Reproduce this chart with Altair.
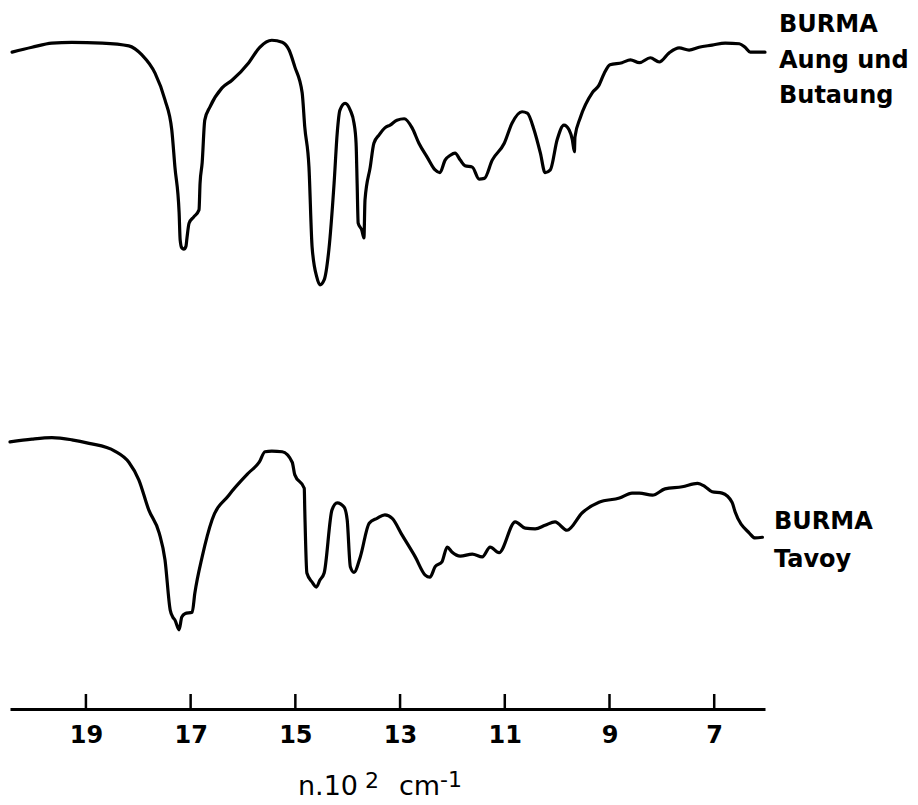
import altair as alt
import pandas as pd

# Upper spectrum: BURMA Aung und Butaung  (wavenumber n.10^2 cm^-1, relative transmittance)
top_w = [20.41, 20.03, 19.65, 19.27, 18.69, 18.18, 17.93, 17.68, 17.49, 17.36,
         17.30, 17.22, 17.20, 17.17, 17.13, 17.09, 17.07, 17.03, 16.94, 16.84,
         16.82, 16.78, 16.73, 16.63, 16.40, 16.21, 15.89, 15.68, 15.45, 15.25,
         15.12, 15.01, 14.87, 14.82, 14.74, 14.68, 14.59, 14.53, 14.45, 14.36,
         14.26, 14.20, 14.15, 14.05, 13.95, 13.88, 13.84, 13.82, 13.80, 13.73,
         13.69, 13.67, 13.57, 13.50, 13.40, 13.29, 13.19, 13.06, 12.92, 12.77,
         12.64, 12.48, 12.33, 12.24, 12.14, 12.04, 11.95, 11.85, 11.76, 11.62,
         11.49, 11.39, 11.24, 11.01, 10.86, 10.67, 10.57, 10.44, 10.32, 10.23,
         10.13, 10.00, 9.87, 9.77, 9.71, 9.67, 9.66, 9.56, 9.33, 9.20,
         9.10, 8.99, 8.76, 8.60, 8.43, 8.22, 8.05, 7.86, 7.67, 7.48,
         7.29, 7.04, 6.79, 6.52, 6.41, 6.31, 6.18, 6.03]
top_t = [93.7, 94.4, 95.0, 95.1, 95.0, 94.6, 93.3, 90.7, 86.9, 82.6,
         77.3, 70.8, 66.9, 65.8, 65.6, 66.0, 67.2, 69.3, 70.2, 71.2,
         75.0, 77.9, 84.0, 85.9, 88.6, 89.7, 92.2, 94.4, 95.4, 95.1,
         94.0, 91.6, 87.9, 83.0, 77.3, 65.9, 61.6, 60.5, 61.2, 65.5,
         75.0, 82.2, 85.4, 86.4, 85.4, 83.6, 80.7, 75.0, 69.3, 68.3,
         67.2, 72.6, 77.3, 80.7, 81.9, 82.9, 83.3, 84.0, 84.2, 82.9,
         80.7, 78.7, 76.9, 76.5, 78.3, 79.0, 79.3, 78.3, 77.5, 77.3,
         75.6, 75.7, 78.3, 80.7, 83.6, 85.2, 85.0, 82.6, 79.3, 76.5,
         76.9, 81.2, 83.3, 82.6, 81.2, 79.5, 81.6, 84.3, 87.9, 89.0,
         90.7, 91.9, 92.2, 92.6, 92.2, 92.9, 92.3, 93.6, 94.3, 94.0,
         94.4, 94.7, 95.0, 94.9, 94.4, 93.7, 93.7, 93.7]

# Lower spectrum: BURMA Tavoy
bot_w = [20.45, 20.03, 19.65, 19.27, 18.94, 18.45, 18.18, 17.99, 17.80, 17.60,
         17.49, 17.39, 17.34, 17.30, 17.22, 17.17, 17.11, 16.97, 16.92, 16.78,
         16.59, 16.27, 15.89, 15.69, 15.58, 15.45, 15.25, 15.06, 15.01, 14.83,
         14.82, 14.78, 14.68, 14.60, 14.53, 14.45, 14.30, 14.20, 14.07, 14.01,
         13.95, 13.88, 13.76, 13.59, 13.44, 13.29, 13.15, 12.96, 12.71, 12.52,
         12.43, 12.33, 12.20, 12.10, 12.01, 11.85, 11.62, 11.43, 11.28, 11.11,
         10.80, 10.61, 10.42, 10.23, 10.04, 9.81, 9.52, 9.20, 8.81, 8.57,
         8.43, 8.18, 7.94, 7.61, 7.32, 7.17, 7.04, 6.85, 6.66, 6.60,
         6.33, 6.22, 6.08]
bot_t = [38.1, 38.5, 38.7, 38.4, 37.9, 36.8, 35.2, 32.7, 28.4, 25.1,
         21.3, 14.1, 13.1, 12.7, 11.3, 13.1, 13.6, 13.8, 16.5, 21.7,
         27.0, 30.5, 33.7, 35.2, 36.7, 36.8, 36.7, 35.2, 33.4, 31.5,
         28.4, 19.4, 18.1, 17.4, 18.4, 19.4, 28.4, 29.4, 28.8, 27.0,
         20.3, 19.5, 21.7, 26.5, 27.2, 27.7, 27.2, 24.8, 21.7, 19.1,
         18.8, 20.3, 21.0, 23.1, 22.4, 21.8, 22.1, 21.7, 23.1, 22.3,
         26.7, 25.8, 25.7, 26.2, 26.7, 25.5, 28.0, 29.5, 30.1, 30.8,
         30.8, 30.5, 31.4, 31.7, 32.2, 31.7, 31.0, 30.8, 29.5, 28.1,
         25.1, 24.4, 24.5]

tick_values = [19, 17, 15, 13, 11, 9, 7]

rows = []
for i, (w, t) in enumerate(zip(top_w, top_t)):
    rows.append({"w": w, "T": t, "series": "Aung und Butaung", "i": i})
for i, (w, t) in enumerate(zip(bot_w, bot_t)):
    rows.append({"w": w, "T": t, "series": "Tavoy", "i": i})
df = pd.DataFrame(rows)

W, H = 755, 701
xscale = alt.Scale(domain=[6.03, 20.45], reverse=True, nice=False, zero=False)
yscale = alt.Scale(domain=[0, 100], nice=False, zero=False)

lines = alt.Chart(df).mark_line(color="black", strokeWidth=3.2, strokeCap="round",
                                strokeJoin="round", interpolate="monotone").encode(
    x=alt.X("w:Q", scale=xscale,
            axis=alt.Axis(values=tick_values, format="d", ticks=False, grid=False,
                          labelFont="DejaVu Sans", labelFontWeight="bold",
                          labelFontSize=24, labelPadding=14, labelColor="black",
                          domainWidth=3, domainColor="black", title=None,
                          labelFlush=False)),
    y=alt.Y("T:Q", scale=yscale, axis=None),
    detail="series:N",
    order=alt.Order("i:Q"),
)

ticks = alt.Chart(pd.DataFrame({"w": tick_values})).mark_rule(
    color="black", strokeWidth=2.5).encode(
    x=alt.X("w:Q", scale=xscale),
    y=alt.value(686), y2=alt.value(H))


def label(txt, x, y, size, weight="bold"):
    return alt.Chart(pd.DataFrame({"t": [txt]})).mark_text(
        align="left", baseline="alphabetic", font="DejaVu Sans",
        fontSize=size, fontWeight=weight, color="black").encode(
        text="t:N", x=alt.value(x), y=alt.value(y))


labels = [
    label("BURMA", 769, 24, 24),
    label("Aung und", 769, 60, 24),
    label("Butaung", 769, 95, 24),
    label("BURMA", 764, 521, 24),
    label("Tavoy", 764, 559, 24),
    label("n.10", 288, 787, 27, "normal"),
    label("2", 355, 780, 22, "normal"),
    label("cm", 389, 787, 27, "normal"),
    label("-1", 430, 779, 22, "normal"),
]

chart = alt.layer(lines, ticks, *labels).properties(
    width=W, height=H, padding=0
).configure_view(stroke=None)

chart.save("out.html", embed_options={"renderer": "svg", "actions": False})
